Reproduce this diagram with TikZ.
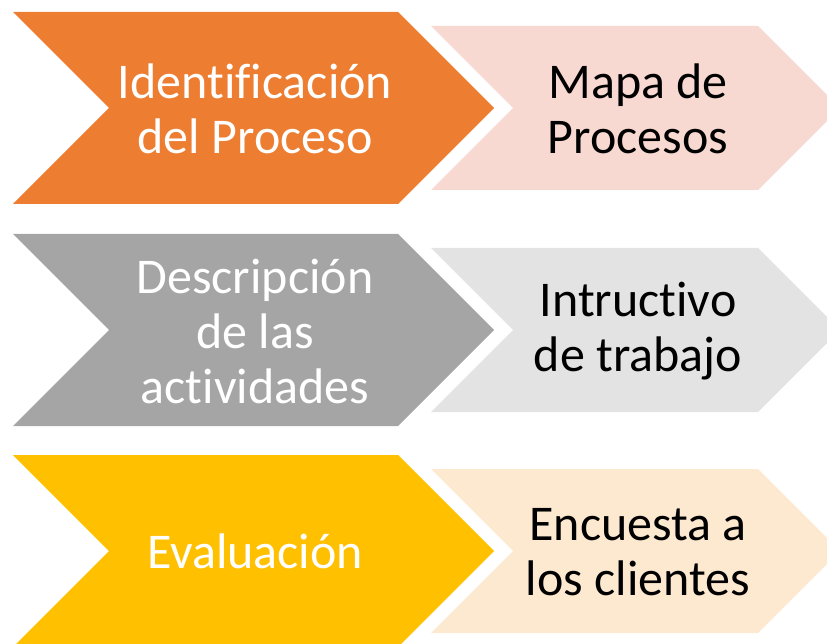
\documentclass[tikz,border=0pt]{standalone}
\usepackage{fontspec}
\setmainfont[Ligatures=NoCommon]{Carlito}
\definecolor{cOrange}{HTML}{ED7D31}
\definecolor{cPink}{HTML}{F8D9D1}
\definecolor{cGray}{HTML}{A5A5A5}
\definecolor{cLGray}{HTML}{E3E3E3}
\definecolor{cGold}{HTML}{FFC000}
\definecolor{cCream}{HTML}{FDE8D0}
\begin{document}
\begin{tikzpicture}[x=1pt,y=-1pt,
  lbl/.style={align=center,inner sep=0pt,font=\fontsize{50}{55}\selectfont},
  bigtxt/.style={lbl,text=white},
  smalltxt/.style={lbl,text=black}]
\useasboundingbox (0,0) rectangle (827,644);
\clip (0,0) rectangle (827,644);
% big chevron: half height 96, small: 82
\foreach \c/\fb/\fs in {108/cOrange/cPink, 330/cGray/cLGray, 551/cGold/cCream}{
  \fill[\fb] (13,\c-96) -- (398,\c-96) -- (494,\c) -- (398,\c+96) -- (13,\c+96) -- (109,\c) -- cycle;
  \fill[\fs] (431,\c-82) -- (758,\c-82) -- (840,\c) -- (758,\c+82) -- (431,\c+82) -- (513,\c) -- cycle;
}
\node[bigtxt] (b1) at (255,109) {Identificación\\del Proceso};
\node[smalltxt] (s1) at (638,109) {Mapa de\\Procesos};
\node[bigtxt] (b2) at (255,331) {Descripción\\de las\\actividades};
\node[smalltxt] (s2) at (638,331) {Intructivo\\de trabajo};
\node[bigtxt] (b3) at (255,551) {Evaluación};
\node[smalltxt] (s3) at (638,552) {Encuesta a\\los clientes};
\end{tikzpicture}
\end{document}
